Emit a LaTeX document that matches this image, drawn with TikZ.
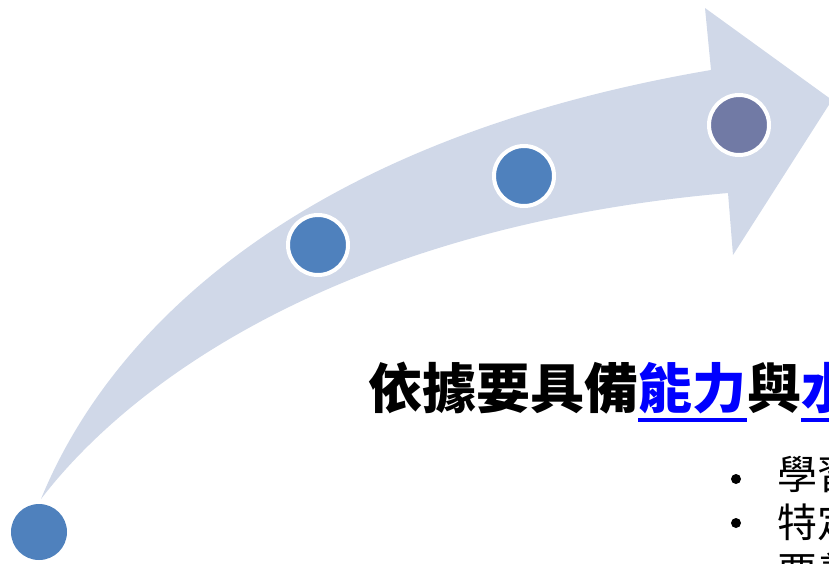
\documentclass[tikz,border=0pt]{standalone}
\usepackage{fontspec}
\newfontfamily\cjk{Noto Sans CJK TC}
\usetikzlibrary{calc}
\definecolor{arrowfill}{RGB}{208,216,232}
\definecolor{dotblue}{RGB}{79,129,189}
\definecolor{dotdark}{RGB}{113,122,165}
\definecolor{linkblue}{RGB}{0,0,255}
\begin{document}
\begin{tikzpicture}[x=1pt,y=-1pt,
  dot/.style={circle,fill=dotblue,draw=white,line width=4pt,minimum size=60pt,inner sep=0pt},
  titletext/.style={font=\cjk\bfseries\fontsize{54}{60}\selectfont,inner sep=0pt,anchor=base west},
  itemtext/.style={font=\cjk\fontsize{40}{46}\selectfont,inner sep=0pt,anchor=base west},
  bulletdot/.style={circle,fill=black,minimum size=10pt,inner sep=0pt},
  uline/.style={draw=linkblue,line width=4pt}]
\useasboundingbox (0,0) rectangle (829,563);
\clip (0,0) rectangle (829,563);
% curved arrow
\fill[arrowfill] (41,499) .. controls (110,330) and (300,140) .. (711,70)
  -- (705,8) -- (832,100) -- (733,255) -- (728,193)
  .. controls (360,225) and (140,370) .. (41,499) -- cycle;
% dots
\node[dot,draw=none,minimum size=56pt] (d1) at (39,532) {};
\node[dot] (d2) at (318,245) {};
\node[dot] (d3) at (524,176) {};
\node[dot,fill=dotdark] (d4) at (739,125) {};
% title
\node[titletext] (t1) at (368,408) {依據要具備};
\node[titletext,text=linkblue] (t2) at (t1.base east) {能力};
\node[titletext] (t3) at (t2.base east) {與};
\node[titletext,text=linkblue] (t4) at (t3.base east) {水};
\draw[uline] ($(t2.base west)+(0,12)$) -- ($(t2.base east)+(0,12)$);
\draw[uline] ($(t4.base west)+(0,12)$) -- ($(t4.base east)+(0,12)$);
% bullets
\node[bulletdot] (m1) at (736,479) {};
\node[bulletdot] (m2) at (736,523) {};
\node[itemtext] (b1) at (777,489) {學習};
\node[itemtext] (b2) at (777,537) {特定};
\node[itemtext] (b3) at (777,586) {要義};
\end{tikzpicture}
\end{document}
